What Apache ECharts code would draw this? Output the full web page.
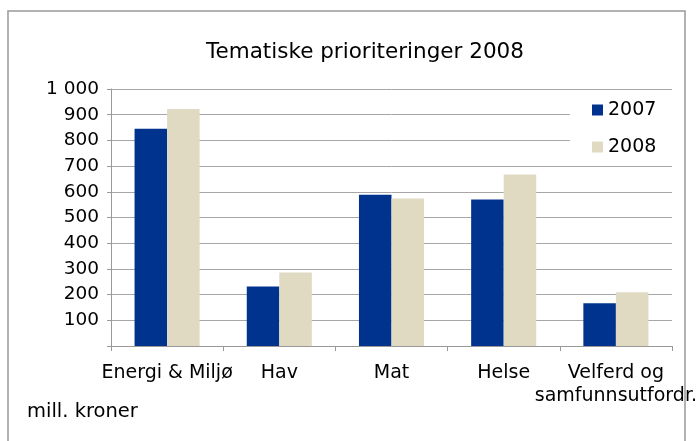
<!DOCTYPE html>
<html>
<head>
<meta charset="utf-8">
<script src="https://cdn.jsdelivr.net/npm/echarts@6/dist/echarts.min.js"></script>
<style>html,body{margin:0;padding:0;background:#fff;}#c{width:696px;height:441px;}</style>
</head>
<body>
<div id="c"></div>
<script>
const categories = ['Energi & Miljø', 'Hav', 'Mat', 'Helse', 'Velferd og\nsamfunnsutfordr.'];
const values2007 = [845, 232, 589, 570, 166];
const values2008 = [922, 286, 574, 667, 209];
const seriesNames = ['2007', '2008'];
const titleText = 'Tematiske prioriteringer 2008';
const unitText = 'mill. kroner';

const FONT = 'DejaVu Sans';
const chart = echarts.init(document.getElementById('c'), null, {renderer: 'canvas'});
chart.setOption({
  animation: false,
  backgroundColor: '#fff',
  textStyle: {fontFamily: FONT},
  title: {
    text: titleText,
    left: 360, top: 36, textAlign: 'center',
    textStyle: {fontFamily: FONT, fontSize: 21.5, fontWeight: 'normal', color: '#000'}
  },
  legend: {
    orient: 'vertical',
    left: 570, top: 95,
    padding: [5, 22, 5, 22],
    backgroundColor: '#fff',
    itemWidth: 11, itemHeight: 11, itemGap: 17,
    icon: 'rect',
    textStyle: {fontFamily: FONT, fontSize: 19, color: '#000', lineHeight: 20},
    data: seriesNames
  },
  grid: {left: 111, right: 24, top: 89, bottom: 95, containLabel: false, outerBoundsMode: 'none'},
  xAxis: {
    type: 'category',
    data: categories,
    axisLine: {lineStyle: {color: '#999', width: 1}},
    axisTick: {show: true, length: 5, lineStyle: {color: '#999'}},
    axisLabel: {interval: 0, margin: 16, fontFamily: FONT, fontSize: 19, color: '#000', lineHeight: 23, hideOverlap: false}
  },
  yAxis: {
    type: 'value', min: 0, max: 1000, interval: 100,
    axisLine: {show: true, lineStyle: {color: '#999'}},
    axisTick: {show: true, length: 4, lineStyle: {color: '#999'}},
    splitLine: {lineStyle: {color: '#a6a6a6', width: 1}},
    axisLabel: {
      margin: 12, fontFamily: FONT, fontSize: 18.5, color: '#000',
      formatter: v => v === 0 ? '' : (v >= 1000 ? '1 000' : String(v))
    }
  },
  series: [
    {name: seriesNames[0], type: 'bar', data: values2007, barGap: '0%', barCategoryGap: '42%', itemStyle: {color: '#00338e'}},
    {name: seriesNames[1], type: 'bar', data: values2008, barGap: '0%', barCategoryGap: '42%', itemStyle: {color: '#e0dac3'}}
  ],
  graphic: [
    {type: 'rect', shape: {x: 8, y: 11, width: 677, height: 440}, style: {fill: 'none', stroke: '#999', lineWidth: 1.5}, z: -1},
    {type: 'text', left: 27, top: 402, style: {text: unitText, font: '19.5px "DejaVu Sans"', fill: '#000'}}
  ]
});
</script>
</body>
</html>
